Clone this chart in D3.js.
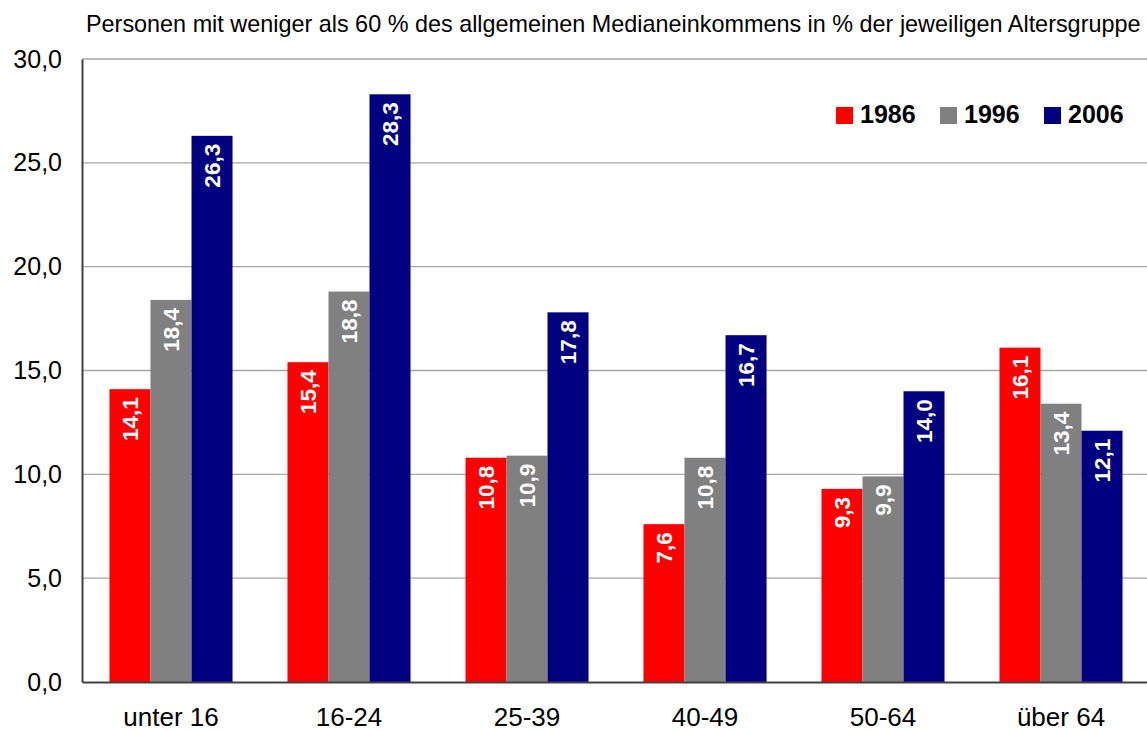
<!DOCTYPE html>
<html><head><meta charset="utf-8">
<script src="https://cdn.jsdelivr.net/npm/d3@7"></script>
<style>body{margin:0;background:#fff;} svg{display:block;font-family:"Liberation Sans",Arial,sans-serif;}</style>
</head><body><svg id="c" width="1147" height="731"></svg>
<script>
const categories = ["unter 16","16-24","25-39","40-49","50-64","über 64"];
const seriesNames = ["1986","1996","2006"];
const v1986 = [14.1,15.4,10.8,7.6,9.3,16.1];
const v1996 = [18.4,18.8,10.9,10.8,9.9,13.4];
const v2006 = [26.3,28.3,17.8,16.7,14.0,12.1];
const yTicks = [0,5,10,15,20,25,30];
const colors = ["#ff0000","#808080","#000080"];
const title = "Personen mit weniger als 60 % des allgemeinen Medianeinkommens in % der jeweiligen Altersgruppe";

const series = [v1986,v1996,v2006];
const svg = d3.select("#c");
const L=82, R=1150, T=59, B=682;
const x = d3.scaleBand().domain(categories).range([L,R]).paddingInner(0).paddingOuter(0);
const xs = d3.scaleBand().domain(seriesNames).range([0,x.bandwidth()]).paddingOuter(0.67).paddingInner(0);
const y = d3.scaleLinear().domain([0,30]).range([B,T]);
const fmt = d => d.toFixed(1).replace(".",",");

// gridlines
svg.append("g").selectAll("line").data(yTicks.filter(d=>d>0)).join("line")
  .attr("x1",L).attr("x2",R).attr("y1",d=>y(d)).attr("y2",d=>y(d))
  .attr("stroke","#a6a6a6").attr("stroke-width",1.3);

// bars
seriesNames.forEach((s,i)=>{
  const g = svg.append("g");
  g.selectAll("rect").data(categories).join("rect")
    .attr("x",c=>x(c)+xs(s)).attr("width",xs.bandwidth())
    .attr("y",(c,j)=>y(series[i][j])).attr("height",(c,j)=>B-y(series[i][j]))
    .attr("fill",colors[i]);
  g.selectAll("text").data(categories).join("text")
    .attr("transform",(c,j)=>`translate(${x(c)+xs(s)+xs.bandwidth()/2},${y(series[i][j])+8}) rotate(-90)`)
    .attr("dy","0.36em")
    .attr("text-anchor","end").attr("fill","#fff").attr("font-weight","bold").attr("font-size",22.5)
    .text((c,j)=>fmt(series[i][j]));
});

// axes
const yAxis = d3.axisLeft(y).tickValues(yTicks).tickFormat(fmt).tickSize(0).tickPadding(20);
const ya = svg.append("g").attr("transform",`translate(${L},0)`).call(yAxis);
ya.select(".domain").attr("stroke","#404040").attr("stroke-width",2);
ya.selectAll("text").attr("font-size",25).attr("fill","#000").attr("font-family","Liberation Sans, Arial, sans-serif");

const xAxis = d3.axisBottom(x).tickSize(0).tickPadding(26);
const xa = svg.append("g").attr("transform",`translate(0,${B})`).call(xAxis);
xa.select(".domain").attr("stroke","#404040").attr("stroke-width",2);
xa.selectAll("text").attr("font-size",26).attr("fill","#000").attr("font-family","Liberation Sans, Arial, sans-serif");

// title
svg.append("text").attr("x",86).attr("y",32).attr("font-size",23.4).attr("fill","#000").text(title);

// legend
const legX = [836,940,1044];
seriesNames.forEach((s,i)=>{
  svg.append("rect").attr("x",legX[i]).attr("y",107).attr("width",17).attr("height",17).attr("fill",colors[i]);
  svg.append("text").attr("x",legX[i]+24).attr("y",123).attr("font-size",25).attr("font-weight","bold").attr("fill","#000").text(s);
});
</script></body></html>
